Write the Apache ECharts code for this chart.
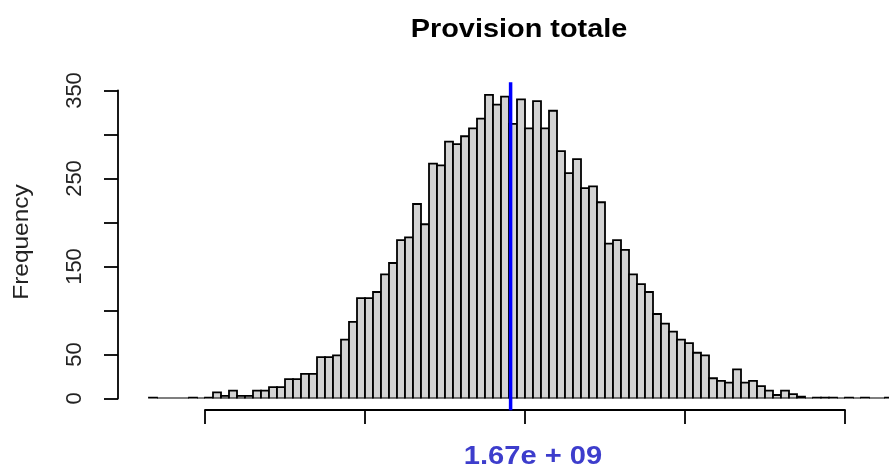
<!DOCTYPE html>
<html>
<head>
<meta charset="utf-8">
<script src="https://cdn.jsdelivr.net/npm/echarts@6/dist/echarts.min.js"></script>
<style>
html,body{margin:0;padding:0;background:#fff;}
#c{width:889px;height:467px;}
</style>
</head>
<body>
<div id="c"></div>
<script>
// Histogram counts per bin (bin k spans [k, k+1] in bin units)
const counts = [1,0,0,0,0,1,0,1,7,3,9,3,3,9,9,13,13,22,22,28,28,47,47,49,67,87,114,114,121,141,
  154,180,183,221,198,267,265,292,289,298,307,318,345,334,343,312,340,307,338,307,
  327,281,256,272,239,241,223,176,180,169,141,130,121,96,85,76,67,63,52,49,
  23,20,18,33,18,20,14,9,4,9,5,2,0,1,1,1,0,1,0,1,0,0,1];
// x-axis tick positions (bin units), unlabeled as in the original
const xTicks = [7, 27, 47, 67, 87];
// y-axis ticks and the labels actually printed
const yTicks = [0, 50, 100, 150, 200, 250, 300, 350];
const yLabels = [0, 50, 150, 250, 350];
// mean position (bin units) and its label
const meanBin = 45.2;
const meanLabel = '1.67e + 09';
const title = 'Provision totale';
const yName = 'Frequency';

const chart = echarts.init(document.getElementById('c'), null, {renderer: 'canvas'});
const barData = counts.map((c, i) => [i, c]);

chart.setOption({
  animation: false,
  backgroundColor: '#ffffff',
  grid: [
    {left: 118, right: 0, top: 90.5, bottom: 68.5},
    {left: 205, right: 44, top: 100, bottom: 57}
  ],
  xAxis: [
    {gridIndex: 0, type: 'value', min: -3.875, max: 92.5, show: false},
    {gridIndex: 1, type: 'value', min: 7, max: 87, position: 'bottom',
      axisLine: {show: true, onZero: false, lineStyle: {color: '#000', width: 1.8}},
      axisTick: {show: true, length: 14, customValues: xTicks, lineStyle: {color: '#000', width: 1.8}},
      axisLabel: {show: false}, splitLine: {show: false}}
  ],
  yAxis: [
    {gridIndex: 0, type: 'value', min: 0, max: 350, position: 'left',
      axisLine: {show: true, onZero: false, lineStyle: {color: '#000', width: 1.8}},
      axisTick: {show: true, length: 14, customValues: yTicks, lineStyle: {color: '#000', width: 1.8}},
      axisLabel: {show: true, rotate: 90, margin: 32, customValues: yLabels,
        fontFamily: 'Liberation Sans', fontSize: 22, color: '#222'},
      splitLine: {show: false}},
    {gridIndex: 1, type: 'value', min: 0, max: 1, show: false}
  ],
  series: [
    {
      type: 'custom',
      xAxisIndex: 0, yAxisIndex: 0,
      clip: true,
      data: barData,
      renderItem: function (params, api) {
        const i = api.value(0), c = api.value(1);
        const p0 = api.coord([i, 0]);
        const p1 = api.coord([i + 1, c]);
        return {
          type: 'rect',
          shape: {x: p0[0], y: p1[1], width: p1[0] - p0[0], height: p0[1] - p1[1]},
          style: {fill: '#d3d3d3', stroke: '#000', lineWidth: 1.8}
        };
      }
    },
    {
      type: 'custom',
      xAxisIndex: 0, yAxisIndex: 0,
      clip: false,
      data: [[meanBin]],
      z: 10,
      renderItem: function (params, api) {
        const x = api.value(0);
        const top = api.coord([x, 359.5]);
        const bot = api.coord([x, -13.3]);
        return {
          type: 'line',
          shape: {x1: top[0], y1: top[1], x2: bot[0], y2: bot[1]},
          style: {stroke: '#0000ff', lineWidth: 3.5}
        };
      }
    }
  ],
  graphic: [
    {type: 'text', x: 519, y: 16.5, scaleX: 1.11,
      style: {text: title, font: 'bold 26px "Liberation Sans"', fill: '#000',
        textAlign: 'center', textVerticalAlign: 'top'}},
    {type: 'text', x: 533, y: 443.5, scaleX: 1.12,
      style: {text: meanLabel, font: 'bold 26px "Liberation Sans"', fill: '#3d3dcc',
        textAlign: 'center', textVerticalAlign: 'top'}},
    {type: 'text', x: 22, y: 242, rotation: Math.PI / 2, scaleX: 1.11,
      style: {text: yName, font: '22px "Liberation Sans"', fill: '#222',
        textAlign: 'center', textVerticalAlign: 'middle'}}
  ]
});
</script>
</body>
</html>
